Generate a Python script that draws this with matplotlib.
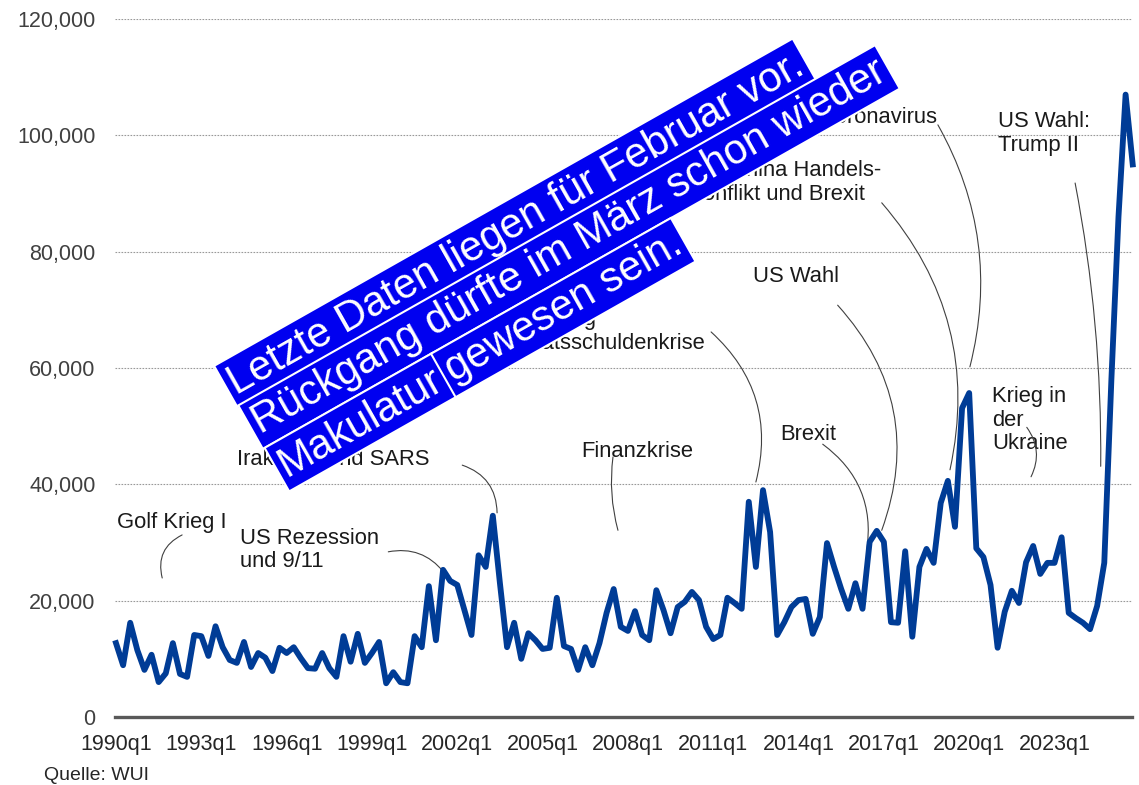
import numpy as np
import matplotlib
matplotlib.use('Agg')
import matplotlib.pyplot as plt
import matplotlib.transforms as mtransforms
from matplotlib.font_manager import FontProperties
from matplotlib.textpath import TextToPath
from matplotlib.ticker import FuncFormatter

# World Uncertainty Index, quarterly from 1990q1
wui = [12700, 8900, 16200, 11500, 8100, 10700, 6000, 7500, 12700, 7400,
       6900, 14100, 13900, 10500, 15600, 12000, 9800, 9300, 12900, 8600,
       11000, 10200, 7900, 11900, 11000, 12000, 10100, 8400, 8300, 11000,
       8400, 6900, 13900, 9500, 14300, 9300, 11000, 12900, 5800, 7700,
       6000, 5800, 13900, 12000, 22500, 13200, 25300, 23400, 22700, 18400,
       14100, 27800, 25800, 34600, 23000, 12000, 16200, 10000, 14400, 13200,
       11700, 11900, 20500, 12200, 11700, 8100, 12000, 8900, 12700, 17900,
       22000, 15500, 14800, 18200, 14100, 13200, 21800, 18400, 14400, 18900,
       19800, 21500, 20100, 15500, 13400, 14100, 20500, 19600, 18600, 37000,
       25800, 39000, 31800, 14100, 16300, 18900, 20100, 20300, 14300, 17200,
       29900, 25800, 22000, 18600, 23000, 18600, 30100, 32000, 30100, 16300,
       16200, 28500, 13800, 25800, 28900, 26500, 36800, 40600, 32700, 53100,
       55700, 29000, 27500, 22700, 11900, 18100, 21700, 19600, 26600, 29400,
       24600, 26500, 26500, 30900, 17900, 17000, 16200, 15100, 19100, 26500,
       58000, 86000, 107000, 95000]
quarters = [f"{1990 + i // 4}q{i % 4 + 1}" for i in range(len(wui))]
tick_idx = list(range(0, 133, 12))
y_ticks = [0, 20000, 40000, 60000, 80000, 100000, 120000]

# annotations: text, text pos (idx, value), leader start, leader end, rad
events = [
    ("Golf Krieg I", (0.1, 33500), (9.3, 31300), (6.5, 23900), 0.4),
    ("US Rezession\nund 9/11", (17.4, 28700), (38.3, 28400), (46.1, 24900), -0.3),
    ("Irakkrieg und SARS", (17.0, 44300), (48.7, 43300), (53.6, 35100), -0.35),
    ("Finanzkrise", (65.4, 45600), (69.9, 44700), (70.6, 32100), 0.1),
    ("Euro-Rettung\nund Staatsschuldenkrise", (49.2, 66300), (83.7, 66200), (90.0, 40400), -0.3),
    ("Brexit", (93.4, 48600), (99.4, 46900), (105.6, 28700), -0.3),
    ("US Wahl", (89.6, 75800), (101.5, 70800), (107.7, 32100), -0.3),
    ("US-China Handels-\nkonflikt und Brexit", (81.0, 91900), (107.7, 88400), (117.3, 42500), -0.25),
    ("Coronavirus", (99.0, 103100), (115.6, 101800), (120.1, 60200), -0.2),
    ("Krieg in\nder\nUkraine", (123.2, 51000), (128.1, 49800), (128.7, 41300), -0.3),
    ("US Wahl:\nTrump II", (124.1, 100300), (134.9, 91800), (138.5, 43100), -0.05),
]

plt.rcParams['font.family'] = ['Liberation Sans', 'DejaVu Sans']

fig = plt.figure(figsize=(11.39, 7.85), dpi=100)
ax = fig.add_axes([115 / 1139, 1 - 717 / 785, 1017 / 1139, 698 / 785])

x = np.arange(len(wui))
ax.plot(x, wui, color='#003c96', lw=4.2, solid_joinstyle='round', zorder=3, clip_on=False)

ax.set_xlim(-0.14, 142.9)
ax.set_ylim(0, 120000)
ax.set_yticks(y_ticks)
ax.yaxis.set_major_formatter(FuncFormatter(lambda v, p: f"{int(v):,}"))
ax.set_xticks(tick_idx)
ax.set_xticklabels([quarters[i] for i in tick_idx])
ax.tick_params(axis='y', length=0, pad=14, labelsize=15.5, labelcolor='#404040')
ax.tick_params(axis='x', length=0, pad=12, labelsize=15.5, labelcolor='#262626')
ax.grid(axis='y', color='#999999', lw=0.8, linestyle=(0, (1.5, 1.2)))
ax.set_axisbelow(True)
for s in ['left', 'right', 'top']:
    ax.spines[s].set_visible(False)
ax.spines['bottom'].set_color('#595959')
ax.spines['bottom'].set_linewidth(2.4)
ax.spines['bottom'].set_zorder(4)

# annotations with curved leader lines
for txt, pos, start, end, rad in events:
    ax.text(pos[0], pos[1], txt, ha='left', va='center', fontsize=15.8,
            color='#1a1a1a', linespacing=1.15, zorder=2)
    ax.annotate('', xy=end, xytext=start,
                arrowprops=dict(arrowstyle='-', color='#404040', lw=0.8,
                                connectionstyle=f'arc3,rad={rad}',
                                shrinkA=0, shrinkB=0), zorder=2)

fig.text(44 / 1139, 1 - 775 / 785, 'Quelle: WUI', fontsize=14, color='#262626', va='center')

# rotated blue note
angle = 29.5
box_fs = 30.0
box = dict(boxstyle='square,pad=0.12', fc='#0000f0', ec='white', lw=1.5)
note_lines = [("Letzte Daten liegen für Februar vor.", (16.9, 55400)),
              ("Rückgang dürfte im März schon wieder", (20.3, 48600)),
              ("Makulatur", (24.0, 41300))]
for txt, pos in note_lines:
    ax.text(pos[0], pos[1], txt, rotation=angle, rotation_mode='anchor',
            ha='left', va='baseline', fontsize=box_fs, color='white',
            bbox=box, zorder=10, clip_on=False)

fp = FontProperties(family='Liberation Sans', size=box_fs)
w_mak = TextToPath().get_text_width_height_descent('Makulatur', fp, ismath=False)[0]
shift = (w_mak + 0.2 * box_fs) * fig.dpi / 72
rad_a = np.deg2rad(angle)
trans = mtransforms.offset_copy(ax.transData, fig=fig, x=shift * np.cos(rad_a),
                                y=shift * np.sin(rad_a), units='dots')
ax.text(note_lines[2][1][0], note_lines[2][1][1], "gewesen sein.", transform=trans,
        rotation=angle, rotation_mode='anchor', ha='left', va='baseline',
        fontsize=box_fs, color='white', bbox=box, zorder=10, clip_on=False)

fig.savefig('out.png', dpi=100)
